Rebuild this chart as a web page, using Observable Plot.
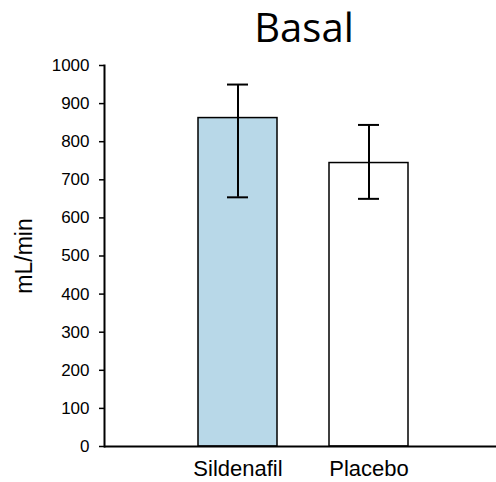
<!DOCTYPE html>
<html>
<head>
<meta charset="utf-8">
<script src="https://cdn.jsdelivr.net/npm/d3@7"></script>
<script src="https://cdn.jsdelivr.net/npm/@observablehq/plot@0.6"></script>
<style>
  html, body { margin: 0; padding: 0; background: #fff; }
  #title { position: relative; width: 496px; height: 50px; }
  #title span { position: absolute; left: 304px; top: 5px; transform: translateX(-50%);
    font-family: "Open Sans", sans-serif; font-size: 40px; line-height: 44px; color: #000; white-space: nowrap; }
  #chart svg { display: block; }
</style>
</head>
<body>
<div id="title"><span>Basal</span></div>
<div id="chart"></div>
<script>
const categories = ["Sildenafil", "Placebo"];
const means = [862, 744];
const errLow = [654, 650];
const errHigh = [950, 844];
const yTicks = [0, 100, 200, 300, 400, 500, 600, 700, 800, 900, 1000];
const yLabel = "mL/min";
const barColors = ["#b8d8e8", "#ffffff"];

const data = categories.map((c, i) => ({cat: c, value: means[i], low: errLow[i], high: errHigh[i]}));

const chart = Plot.plot({
  width: 496,
  height: 432,
  marginTop: 15,
  marginBottom: 36,
  marginLeft: 104,
  marginRight: 0,
  style: {fontFamily: "'Liberation Sans', Arial, sans-serif", color: "#000", background: "#fff"},
  x: {domain: categories, paddingInner: 0.4, paddingOuter: 0.6856, align: 0.514, label: null},
  y: {domain: [0, 1000], label: null},
  color: {domain: categories, range: barColors},
  marks: [
    Plot.barY(data, {x: "cat", y: "value", fill: "cat", stroke: "#000", strokeWidth: 1.5}),
    Plot.ruleX(data, {x: "cat", y1: "low", y2: "high", stroke: "#000", strokeWidth: 2}),
    Plot.tickY(data, {x: "cat", y: "low", insetLeft: 29, insetRight: 29, stroke: "#000", strokeWidth: 2}),
    Plot.tickY(data, {x: "cat", y: "high", insetLeft: 29, insetRight: 29, stroke: "#000", strokeWidth: 2}),
    Plot.ruleY([0], {stroke: "#000", strokeWidth: 2}),
    Plot.frame({anchor: "left", stroke: "#000", strokeWidth: 2}),
    Plot.axisY({ticks: yTicks, tickFormat: d => String(d), tickSize: 5, tickPadding: 10, fontSize: 17, strokeWidth: 1.5, label: null}),
    Plot.text([yLabel], {frameAnchor: "left", textAnchor: "middle", rotate: -90, dx: -80, fontSize: 23, fill: "#000"}),
    Plot.axisX({tickSize: 0, tickPadding: 14, fontSize: 22, label: null})
  ]
});
document.getElementById("chart").appendChild(chart);
</script>
</body>
</html>
